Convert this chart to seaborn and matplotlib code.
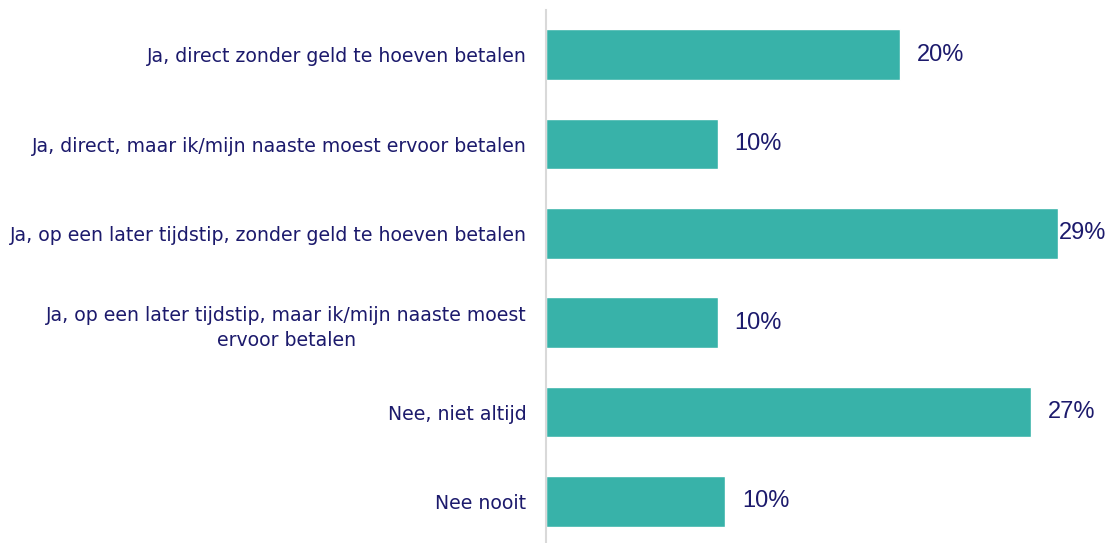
import matplotlib
matplotlib.use("Agg")
import matplotlib.pyplot as plt
import seaborn as sns
import pandas as pd

categories = [
    "Ja, direct zonder geld te hoeven betalen",
    "Ja, direct, maar ik/mijn naaste moest ervoor betalen",
    "Ja, op een later tijdstip, zonder geld te hoeven betalen",
    "Ja, op een later tijdstip, maar ik/mijn naaste moest\nervoor betalen",
    "Nee, niet altijd",
    "Nee nooit",
]
values = [20.0, 9.7, 28.9, 9.7, 27.4, 10.1]
labels = ["20%", "10%", "29%", "10%", "27%", "10%"]

BAR = "#38B2A9"
TXT = "#1C1A6C"

sns.set_theme(style="white")
plt.rcParams["font.family"] = ["DejaVu Sans"]

W, H = 1113, 543
fig = plt.figure(figsize=(W / 100, H / 100), dpi=100)
ax = fig.add_axes([546 / W, -3 / H, (1106 - 546) / W, 536 / H])

df = pd.DataFrame({"cat": categories, "val": values})
sns.barplot(data=df, x="val", y="cat", orient="h", color=BAR, saturation=1,
            width=0.57, ax=ax)

xmax = (1106 - 546) / 17.7
ax.set_xlim(0, xmax)
ax.set_ylim(5.5, -0.5)
ax.set_xlabel("")
ax.set_ylabel("")
ax.set_xticks([])
for s in ["top", "right", "bottom"]:
    ax.spines[s].set_visible(False)
ax.spines["left"].set_color("#D9D9D9")
ax.spines["left"].set_linewidth(1.5)
ax.tick_params(axis="y", length=0, pad=14)
for t in ax.get_yticklabels():
    t.set_color(TXT)
    t.set_fontsize(13.6)
    t.set_multialignment("center")
    t.set_linespacing(1.45)

fig.canvas.draw()
renderer = fig.canvas.get_renderer()
pad_px = 17
for i, (v, lab) in enumerate(zip(values, labels)):
    txt = ax.text(v, i, lab, ha="left", va="center", color=TXT, fontsize=17,
                  family=["Liberation Sans", "DejaVu Sans"])
    txt.set_transform(ax.transData + matplotlib.transforms.ScaledTranslation(pad_px / 100, 0, fig.dpi_scale_trans))
    bb = txt.get_window_extent(renderer)
    ax_right = ax.get_window_extent(renderer).x1
    if bb.x1 > ax_right:
        txt.set_transform(ax.transData)
        txt.set_x(xmax)
        txt.set_ha("right")

fig.savefig("out.png", dpi=100)
